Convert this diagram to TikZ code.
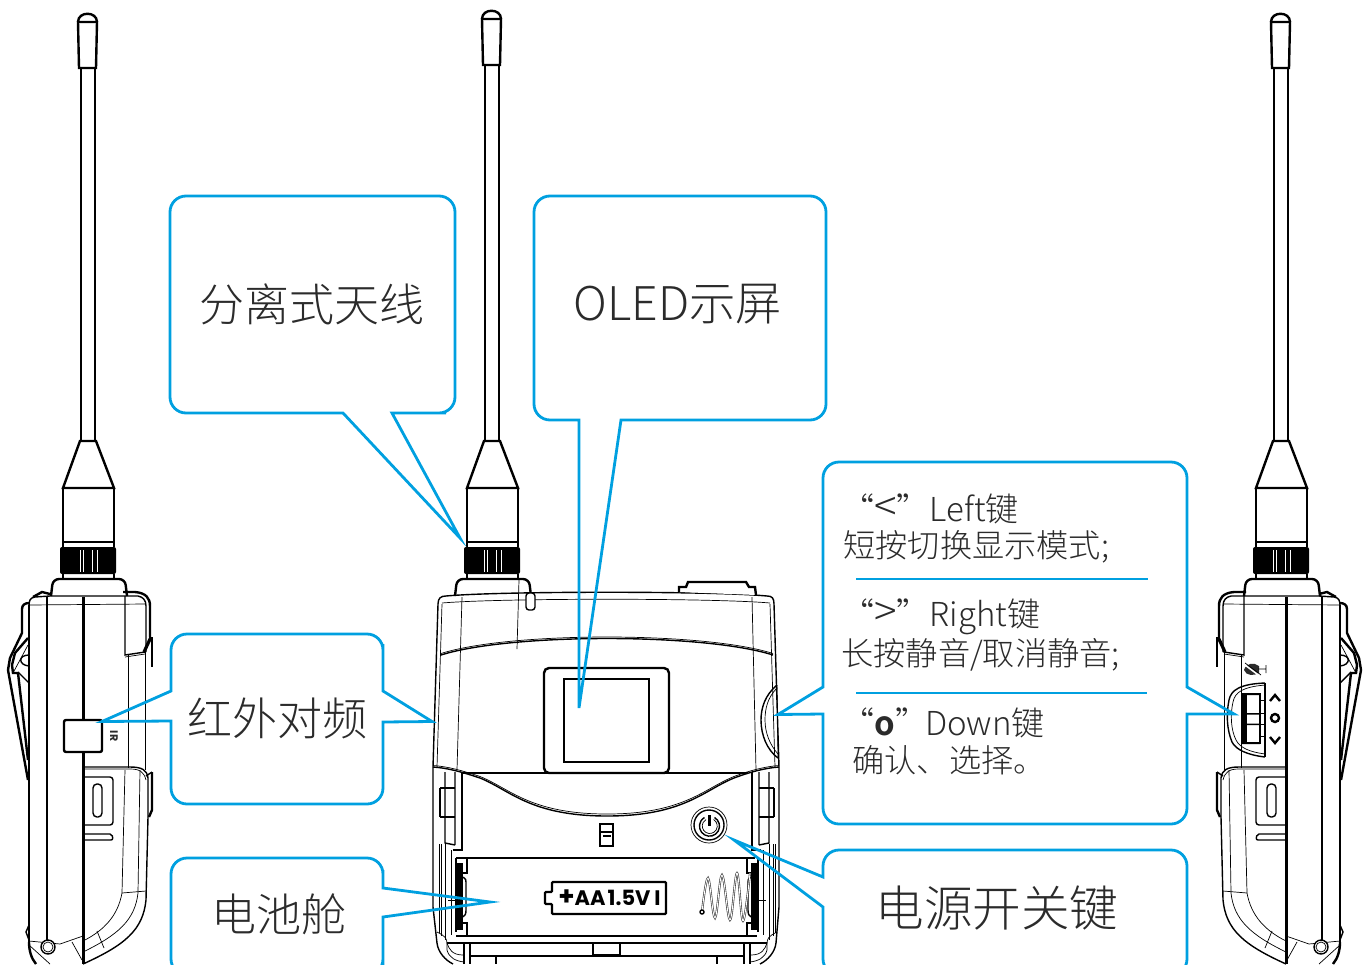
\documentclass[tikz,border=0pt]{standalone}
\usepackage{fontspec}
\setmainfont{Noto Sans CJK SC Light}
\newfontfamily\labelfont{Poppins Bold}
\definecolor{callblue}{HTML}{00A0E0}
\definecolor{inktext}{HTML}{2B2B2B}
\tikzset{
  callout/.style={draw=callblue,line width=1.4pt},
  fine/.style={line width=.35pt},
  mid/.style={line width=.7pt},
  heavy/.style={line width=1.2pt},
  bigtext/.style={text=inktext,inner sep=0pt,font=\fontsize{22.5}{27}\selectfont},
  keytext/.style={text=inktext,inner sep=0pt,anchor=west,font=\fontsize{16.5}{20}\selectfont},
  usetext/.style={keytext,font=\fontsize{16.1}{20}\selectfont},
}
\newcommand{\antennarod}[2]{
\begin{scope}[shift={(#1,0)}]
\draw[heavy] (-10,#2+8) .. controls (-10,#2-3) and (9,#2-3) .. (9,#2+8);
\draw[heavy,fill=white] (-10,#2+8) -- (9,#2+8) -- (8,#2+54) -- (-9,#2+54) -- cycle;
\draw[heavy] (-7,#2+54) -- (-7,441);
\draw[mid] (7,#2+54) -- (7,441);
\draw[heavy] (-8,441) -- (8,441) -- (26,488) -- (-25,488) -- cycle;
\draw[mid] (-25,488) -- (-25,547) (26,488) -- (26,547);
\draw[mid] (-25,542) -- (26,542);
\fill[rounded corners=1pt] (-28,547) rectangle (28,574);
\draw[white,fine] (-8,550) -- (-8,572) (-5,550) -- (-5,572) (4,550) -- (4,572) (9,550) -- (9,572);
\draw[heavy] (-25,574) -- (-25,579) (26,574) -- (26,579);
\draw[heavy,fill=white,rounded corners=3pt] (-37,596) -- (-35,579) -- (37,579) -- (39,596);
\end{scope}
}
\newcommand{\sidebody}{
\draw[mid] (29,607) .. controls (29,600) and (30,598) .. (35,597) -- (50,596) -- (125,596) -- (138,596) .. controls (143,597) and (146,600) .. (146,606) -- (146,652);
\draw[heavy] (33,597) -- (42,592) -- (50,594);
\draw[heavy] (123,592) -- (135,592) .. controls (146,593) and (150,598) .. (150,606) -- (150,637);
\draw[heavy] (29,605) -- (29,945);
\draw[heavy] (47,597) -- (47,940);
\draw[line width=1.5pt] (83,597) -- (83,964);
\draw[fine] (29,605) -- (146,604);
\draw[mid] (125,596) -- (125,655) -- (145,652);
\draw[fine] (125,657) -- (145,654);
\draw[fine] (128,655) -- (128,768);
\draw[fine] (145,652) -- (145,770);
\draw[line width=1.6pt] (151,637) -- (144,652);
\draw[heavy] (152,637) -- (152,667);
\draw[mid] (83,767) -- (130,767) .. controls (142,767) and (147,770) .. (148,778) -- (148,817);
\draw[fine] (83,769) -- (130,769) .. controls (140,769) and (144,772) .. (146,780);
\draw[heavy] (152,772) -- (152,810) -- (149,817);
\draw[mid] (146,776) -- (152,772);
\draw[fine] (125,770) -- (122,893) .. controls (118,915) and (105,930) .. (83,941);
\draw[fine] (140,770) -- (138,893) .. controls (135,920) and (118,935) .. (83,952);
\draw[mid] (148,817) -- (146,900) .. controls (143,930) and (125,945) .. (83,964);
\draw[fine] (122,893) -- (146,891);
\draw[fine] (97,931) -- (104,948) (72,942) -- (82,960);
\draw[heavy] (36,964) .. controls (31,958) and (29,950) .. (29,942);
\draw[fine] (29,945) -- (50,964) (29,941) -- (60,944) -- (83,936);
\draw[mid,fill=white] (48,947) circle[radius=7];
\draw[fine] (48,947) circle[radius=5];
\draw[mid,rounded corners=1.5pt] (83,777) -- (113,777) -- (113,825) -- (83,825);
\draw[mid,rounded corners=2pt] (93,784) rectangle (102,817);
\draw[mid,rounded corners=1pt] (83,834) -- (112,834) -- (113,840) -- (83,840);
\draw[heavy] (29,603) .. controls (25,603) and (22,605) .. (22,609) -- (22,633) -- (10,658) -- (8,670) -- (28,780);
\draw[heavy] (28,638) -- (15,653) -- (12,665) -- (13,673) -- (18,673) -- (28,760);
\draw[mid] (18,672) -- (29,683);
\draw[fine] (13,673) -- (28,645);
\draw[mid] (29,655) .. controls (18,655) and (18,665) .. (29,666);
\draw[mid] (29,925) -- (26,932) -- (29,940);
}
\newcommand{\frontlatch}{
\draw[mid] (445,772) -- (445,843) -- (455,845) (455,772) -- (455,845);
\draw[heavy] (462,772) -- (462,850) -- (453,850);
\draw[mid] (440,788) -- (455,788) (440,817) -- (455,817) (440,788) -- (440,817);
\draw[fine] (439,844) -- (439,933) (441,844) -- (441,936) (445,844) -- (445,940) (451,850) -- (451,935);
\draw[fine] (448,900) -- (456,900);
\fill (455,863) rectangle (463,930);
\draw[mid] (456,858) -- (456,932);
\draw[mid] (467,858) -- (467,873) -- (460,873);
\draw[mid] (467,936) -- (467,923) -- (460,923);
\draw[mid] (463,877) .. controls (466,878) and (466,880) .. (466,885) -- (466,910) .. controls (466,914) and (465,916) .. (463,917);
\draw[fine] (437,932) .. controls (445,936) and (447,938) .. (447,944) -- (447,950) .. controls (449,958) and (456,961) .. (464,962);
\draw[fine] (447,943) .. controls (449,949) and (452,955) .. (463,955);
\draw[mid] (464,943) -- (464,964) (470,943) -- (470,964);
}
\begin{document}
\begin{tikzpicture}[x=.5pt,y=-.5pt]
\useasboundingbox (0,0) rectangle (1371,964);
\clip (0,0) rectangle (1371,964);
\antennarod{88}{14}
\antennarod{492}{11}
\antennarod{1281}{14}
\sidebody
\begin{scope}[shift={(1369,0)},xscale=-1]
\sidebody
\end{scope}
% left side
\draw[heavy,fill=white,rounded corners=1pt] (64,720) rectangle (102,752);
\node[inner sep=0pt,rotate=-90,font=\labelfont\fontsize{5.5}{6}\selectfont,text=inktext] (irmark) at (114,736) {IR};
% right side
\draw[mid] (1265,683) .. controls (1240,684) and (1231,690) .. (1229,700) .. controls (1226,715) and (1227,730) .. (1232,742) .. controls (1236,750) and (1248,755) .. (1265,757);
\draw[fine] (1265,685) .. controls (1243,687) and (1235,692) .. (1233,702) .. controls (1230,715) and (1231,730) .. (1236,740) .. controls (1240,748) and (1250,752) .. (1265,754);
\draw[mid] (1265,683) -- (1265,757);
\fill (1242,693) rectangle (1247,744);
\fill (1242,693) rectangle (1260,695) (1242,713) rectangle (1260,714.5) (1242,723.5) rectangle (1260,725) (1242,742) rectangle (1260,744);
\draw[mid] (1260,693) -- (1260,744);
\draw[fine] (1260,700) -- (1264,700) (1260,713) -- (1264,713) (1260,724) -- (1264,724) (1260,736) -- (1264,736);
\draw[line width=1.2pt] (1270,701) -- (1275,695) -- (1280,701);
\draw[line width=1.2pt] (1275,718) circle[radius=4];
\draw[line width=1.2pt] (1270,737) -- (1275,743) -- (1280,737);
\fill[inktext] (1244,670) .. controls (1246,663) and (1254,662) .. (1259,666) -- (1259,673) .. controls (1254,676) and (1246,676) .. (1244,670) -- cycle;
\draw[line width=.8pt,white] (1245,665) -- (1261,677);
\draw[fine] (1245,663) -- (1261,675) (1258,669) -- (1266,669) (1266,665) -- (1266,673);
% front
\draw[mid] (438,604) .. controls (438,598) and (441,596) .. (446,596) .. controls (500,591) and (714,591) .. (767,596) .. controls (772,596) and (774,598) .. (774,604) -- (779,767) -- (779,907) -- (776,943) .. controls (775,952) and (768,960) .. (760,964);
\draw[mid] (438,604) -- (433,767) -- (433,907) -- (437,943) .. controls (438,952) and (445,960) .. (453,964);
\draw[fine] (442,604) -- (437,767) (770,604) -- (775,767);
\draw[fine] (442,603) .. controls (500,598) and (714,598) .. (770,603);
\draw[fine] (462,597) -- (457,770) (752,597) -- (756,770);
\draw[fine] (519,580) -- (517,649);
\draw[mid,fill=white,rounded corners=1.5pt] (526,593) rectangle (535,610);
\draw[heavy,fill=white] (679,592) -- (679,587) -- (686,587) -- (688,582) -- (746,582) -- (749,587) -- (755,587) -- (756,595);
\draw[mid] (441,655) .. controls (510,633) and (704,633) .. (773,655);
\draw[fine] (441,653.5) .. controls (510,631.5) and (704,631.5) .. (773,653.5);
\draw[heavy,rounded corners=2.5pt] (544,668) rectangle (669,773);
\draw[mid] (564,679) rectangle (649,762);
\draw[mid] (463,773) -- (748,773);
\draw[mid] (433,767) .. controls (448,768) and (462,772) .. (480,778) .. controls (510,790) and (530,816) .. (607,816) .. controls (684,816) and (704,790) .. (734,778) .. controls (750,772) and (765,768) .. (779,767);
\draw[fine] (433,765.5) .. controls (448,766.5) and (462,770.5) .. (480,776.5) .. controls (510,788.5) and (530,814) .. (607,814) .. controls (684,814) and (704,788.5) .. (734,776.5) .. controls (750,770.5) and (765,766.5) .. (779,765.5);
\draw[mid] (777,685) .. controls (765,695) and (761,708) .. (761,720) .. controls (761,735) and (767,750) .. (778,758);
\draw[fine] (777,688) .. controls (768,697) and (765,708) .. (765,720) .. controls (765,733) and (770,745) .. (778,754);
\draw[fine] (777,685) -- (778,758);
\frontlatch
\begin{scope}[shift={(1214,0)},xscale=-1]
\frontlatch
\end{scope}
\draw[fine] (709,825) circle[radius=18];
\draw[mid] (709,825) circle[radius=15];
\draw[mid] (714.5,817.5) arc[start angle=-60,end angle=240,radius=10];
\draw[fine] (713.5,819.5) arc[start angle=-60,end angle=240,radius=7.5];
\draw[heavy] (709.5,815) -- (709.5,826);
\draw[heavy] (600,824) rectangle (613,846);
\draw[mid] (600,832) -- (613,832);
\draw[mid] (603,836) -- (611,836);
\draw[mid] (456,858) -- (755,858);
\draw[mid] (456,936) -- (757,936);
\draw[mid] (447,943) -- (767,943);
\draw[heavy] (470,956) -- (743,956);
\draw[mid] (593,943) rectangle (620,955);
\draw[mid] (496,957) -- (496,964) (717,957) -- (717,964);
\draw[heavy,rounded corners=.5pt] (552,892) -- (545,892) -- (545,904) -- (552,904) -- (552,914) -- (666,914) -- (666,882) -- (552,882) -- cycle;
\node[inner sep=0pt,anchor=west,font=\labelfont\fontsize{10.5}{11}\selectfont] (aalabel) at (558,898) {{\fontsize{13}{13}\selectfont+}AA\kern1pt 1.5V\kern2pt I};
\draw[draw=black!80,line width=.3pt,double=white,double distance=.45pt] plot[smooth,tension=.6] coordinates {(702,912) (708,878) (715,918) (722,875) (730,920) (737,873) (743,921) (750,873)};
\draw[mid,fill=white] (702,912) circle[radius=2];
% callouts
\coordinate (rodtip) at (460,538);
\coordinate (screentip) at (579,708);
\coordinate (irtip) at (102,721.5);
\coordinate (edgetip) at (432,721.5);
\coordinate (celltip) at (490,902);
\coordinate (powertip) at (734,840);
\coordinate (wheeltip) at (778,714.5);
\coordinate (keytip) at (1234,714);
\draw[callout] (343,413) -- (300,413) [rounded corners=8pt] -- (170,413) -- (170,196) -- (455,196) -- (455,413) -- (430,413) [sharp corners] -- (392,413) -- (rodtip) -- cycle;
\draw[callout] (579,420) -- (560,420) [rounded corners=8pt] -- (534,420) -- (534,196) -- (826,196) -- (826,420) -- (700,420) [sharp corners] -- (621,420) -- (screentip) -- cycle;
\draw[callout] (171,691) -- (171,670) [rounded corners=8pt] -- (171,634) -- (383,634) -- (383,660) [sharp corners] -- (383,691) -- (edgetip) -- (383,722) -- (383,750) [rounded corners=8pt] -- (383,804) -- (171,804) -- (171,760) [sharp corners] -- (171,721) -- (irtip) -- cycle;
\draw[callout] (383,888) -- (383,870) [rounded corners=8pt] -- (383,858) -- (171,858) -- (171,975) -- (383,975) -- (383,950) [sharp corners] -- (383,917) -- (celltip) -- cycle;
\draw[callout] (823,877) -- (823,865) [rounded corners=8pt] -- (823,850) -- (1187,850) -- (1187,975) -- (823,975) -- (823,930) [sharp corners] -- (823,907) -- (powertip) -- cycle;
\draw[callout] (823,687) -- (823,600) [rounded corners=8pt] -- (823,462) -- (1187,462) -- (1187,600) [sharp corners] -- (1187,687) -- (keytip) -- (1187,714) -- (1187,760) [rounded corners=8pt] -- (1187,824) -- (823,824) -- (823,760) [sharp corners] -- (823,714) -- (wheeltip) -- cycle;
\draw[callout] (856,579) -- (1148,579);
\draw[callout] (856,693) -- (1147,693);
% labels
\node[bigtext] (antennaname) at (312,304) {分离式天线};
\node[bigtext,font=\fontsize{23.2}{27}\selectfont] (screenname) at (678,304) {OLED示屏};
\node[bigtext] (irname) at (277,718) {红外对频};
\node[bigtext] (cellname) at (279,914) {电池舱};
\node[bigtext,font=\fontsize{24.3}{28}\selectfont] (powername) at (997,908) {电源开关键};
\node[keytext] (leftname) at (841,509) {“{\fontsize{21}{20}\selectfont<}”Left键};
\node[usetext] (leftuse) at (843,547) {短按切换显示模式;};
\node[keytext] (rightname) at (841,617) {“{\fontsize{21}{20}\selectfont>}”Right键};
\node[usetext] (rightuse) at (841,655) {长按静音/取消静音;};
\node[keytext] (downname) at (841,723) {“\textbf{o}”\kern-1.5pt Down键};
\node[usetext] (downuse) at (852,760) {确认、选择。};
\end{tikzpicture}
\end{document}
